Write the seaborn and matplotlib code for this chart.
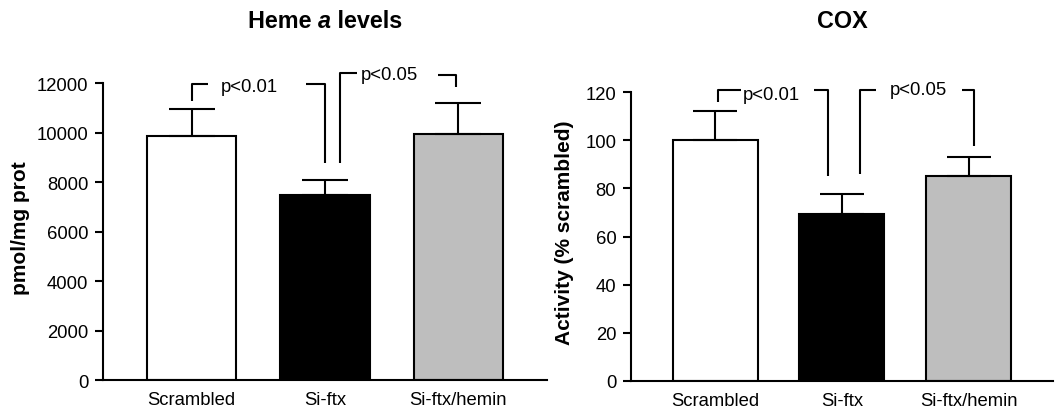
import numpy as np
import matplotlib
matplotlib.use("Agg")
import matplotlib.pyplot as plt
import seaborn as sns

# group names and bar colours
groups = ["Scrambled", "Si-ftx", "Si-ftx/hemin"]
bar_colors = ["#ffffff", "#000000", "#bebebe"]

# heme a levels (pmol/mg prot): mean and upper SD
heme_mean = [9860, 7470, 9930]
heme_sd = [1070, 610, 1260]

# COX activity (% scrambled): mean and upper SD
cox_mean = [100.0, 69.2, 85.2]
cox_sd = [12.3, 8.4, 7.7]

heme_ticks = [0, 2000, 4000, 6000, 8000, 10000, 12000]
cox_ticks = [0, 20, 40, 60, 80, 100, 120]

# significance brackets (polylines in data units) and their labels
heme_brackets = [
    [(0.0, 11270), (0.0, 11960), (0.12, 11960)],
    [(0.86, 11960), (1.0, 11960), (1.0, 8770)],
    [(1.11, 8770), (1.11, 12400), (1.24, 12400)],
    [(1.85, 12320), (1.98, 12320), (1.98, 11840)],
]
heme_labels = [(0.43, 11850, "p<0.01"), (1.48, 12340, "p<0.05")]

cox_brackets = [
    [(0.02, 116), (0.02, 121), (0.20, 121)],
    [(0.78, 121), (0.89, 121), (0.89, 85)],
    [(1.14, 86), (1.14, 121), (1.27, 121)],
    [(1.95, 121), (2.04, 121), (2.04, 97.5)],
]
cox_labels = [(0.445, 119.2, "p<0.01"), (1.60, 121.3, "p<0.05")]

sns.set_style("ticks")
plt.rcParams["font.family"] = ["Liberation Sans", "DejaVu Sans"]
plt.rcParams.update({
    "text.color": "black", "axes.labelcolor": "black", "axes.edgecolor": "black",
    "xtick.color": "black", "ytick.color": "black",
})

LW = 1.5
FS = 13.3

fig = plt.figure(figsize=(10.55, 4.10), dpi=100)
ax1 = fig.add_axes([0.0976, 0.0707, 0.4209, 0.7244])
ax2 = fig.add_axes([0.598, 0.069, 0.400, 0.7034])


def draw_panel(ax, means, sds, ticks, brackets, labels, ylabel, cap, label_x):
    sns.barplot(x=groups, y=means, hue=groups, palette=bar_colors, legend=False,
                saturation=1, edgecolor="black", linewidth=LW, width=0.67,
                errorbar=None, ax=ax)
    xs = np.arange(len(groups))
    ax.errorbar(xs, means, yerr=[np.zeros(len(means)), sds], fmt="none",
                ecolor="black", elinewidth=LW, capsize=cap, capthick=LW, zorder=1)
    for seg in brackets:
        bx, by = zip(*seg)
        ax.plot(bx, by, color="black", lw=LW, clip_on=False, solid_capstyle="butt")
    for tx, ty, s in labels:
        ax.text(tx, ty, s, ha="center", va="center", fontsize=FS, clip_on=False)
    ax.set_xlim(-0.665, 2.665)
    ax.set_ylim(ticks[0], ticks[-1])
    ax.set_yticks(ticks)
    ax.set_ylabel(ylabel, fontweight="bold", fontsize=15)
    ax.yaxis.set_label_coords(label_x, 0.515)
    ax.tick_params(axis="x", length=0, pad=8, labelsize=FS)
    ax.tick_params(axis="y", length=6, width=LW, pad=4.5, labelsize=FS)
    for side in ["left", "bottom"]:
        ax.spines[side].set_linewidth(LW)
    sns.despine(ax=ax)


draw_panel(ax1, heme_mean, heme_sd, heme_ticks, heme_brackets, heme_labels,
           "pmol/mg prot", 16.5, -0.165)
draw_panel(ax2, cox_mean, cox_sd, cox_ticks, cox_brackets, cox_labels,
           "Activity (% scrambled)", 16.0, -0.135)

# titles: "Heme a levels" with an italic a, centred over the left axes
title_y = 0.947
parts = [("Heme ", "normal"), ("a", "italic"), (" levels", "normal")]
texts = [fig.text(0, title_y, s, fontweight="bold", fontstyle=st, fontsize=16.8,
                  ha="left", va="center") for s, st in parts]
fig.canvas.draw()
renderer = fig.canvas.get_renderer()
widths = [t.get_window_extent(renderer).width / fig.bbox.width for t in texts]
x = ax1.get_position().x0 + ax1.get_position().width / 2 - sum(widths) / 2
for t, w in zip(texts, widths):
    t.set_x(x)
    x += w
fig.text(ax2.get_position().x0 + ax2.get_position().width / 2, title_y, "COX",
         fontweight="bold", fontsize=16.8, ha="center", va="center")

fig.savefig("out.png", dpi=100)
